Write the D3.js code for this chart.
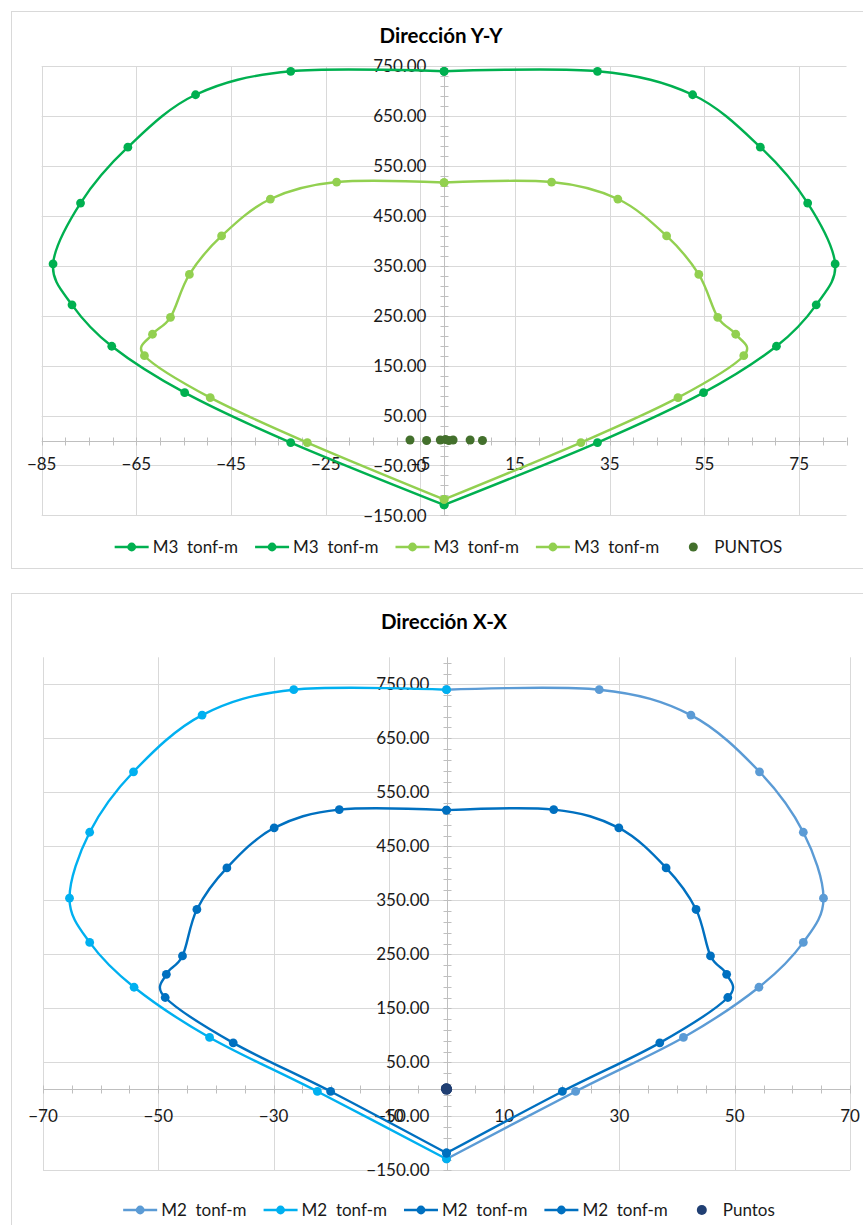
<!DOCTYPE html>
<html><head><meta charset="utf-8">
<script src="https://cdn.jsdelivr.net/npm/d3@7"></script>
<style>
body{margin:0;background:#fff;}
svg{display:block;}
text{font-family:Lato,"Open Sans",sans-serif;}
</style>
</head><body>
<svg id="c" width="863" height="1225"></svg>
<script>
// ---------- DATA ----------
// Axial load P (tonf), shared by both directions
const P_outer = [740, 740, 693, 588, 476, 354, 272, 189, 96, -4, -129];
const P_inner = [517, 518, 484, 410, 333, 247, 213, 170, 86, -4, -118];
// Direction Y-Y : M3 (tonf-m), right half (left half is the mirror)
const M3_outer = [0, 32.4, 52.5, 66.8, 76.8, 82.6, 78.6, 70.2, 54.8, 32.4, 0];
const M3_inner = [0, 22.7, 36.7, 47.0, 53.8, 57.8, 61.6, 63.3, 49.4, 28.9, 0];
// Direction X-X : M2 (tonf-m)
const M2_outer = [0, 26.5, 42.4, 54.3, 61.9, 65.4, 61.9, 54.2, 41.1, 22.4, 0];
const M2_inner = [0, 18.6, 29.9, 38.1, 43.3, 45.8, 48.6, 48.8, 37.0, 20.1, 0];
// Demand points
const PUNTOS_M3 = [-7.2, -3.7, -0.8, 0.3, 1.0, 1.9, 5.5, 8.1];
const PUNTOS_P  = [1, 0, 1, 2, 0, 1, 1, 0];
const Puntos_M2 = [0.0, 0.1, -0.1, 0.0, 0.1, 0.0, -0.1, 0.0];
const Puntos_P  = [1, 0, 1, 2, 0, 1, 1, -1];
// Axis ticks
const xTicksYY = [-85, -65, -45, -25, -5, 15, 35, 55, 75];
const xTicksXX = [-70, -50, -30, -10, 10, 30, 50, 70];
const yTicksYY = [-150, -50, 50, 150, 250, 350, 450, 550, 650, 750];
const yTicksXX = [-150, -50, 50, 150, 250, 350, 450, 550, 650, 750];
const titles = ["Dirección Y-Y", "Dirección X-X"];
const legendYY = ["M3  tonf-m", "M3  tonf-m", "M3  tonf-m", "M3  tonf-m", "PUNTOS"];
const legendXX = ["M2  tonf-m", "M2  tonf-m", "M2  tonf-m", "M2  tonf-m", "Puntos"];

const zip = (a, b) => a.map((v, i) => [v, b[i]]);
const neg = a => a.map(v => -v);

const svg = d3.select("#c");

function drawChart(cfg) {
  const g = svg.append("g");
  // outer border
  g.append("rect").attr("x", cfg.box[0] + 0.5).attr("y", cfg.box[1] + 0.5)
    .attr("width", cfg.box[2]).attr("height", cfg.box[3])
    .attr("fill", "#fff").attr("stroke", "#D9D9D9").attr("stroke-width", 1);

  const xs = d3.scaleLinear().domain(cfg.xDomain).range([cfg.plot[0], cfg.plot[1]]);
  const ys = d3.scaleLinear().domain(cfg.yDomain).range([cfg.plot[3], cfg.plot[2]]);
  const X0 = Math.round(xs(0)) + 0.5, Y0 = Math.round(ys(0)) + 0.5;

  // gridlines
  const grid = g.append("g").attr("stroke", "#D9D9D9").attr("stroke-width", 1);
  cfg.xTicks.forEach(t => {
    const x = Math.round(xs(t)) + 0.5;
    grid.append("line").attr("x1", x).attr("x2", x).attr("y1", cfg.plot[2]).attr("y2", cfg.plot[3]);
  });
  cfg.yTicks.forEach(t => {
    const y = Math.round(ys(t)) + 0.5;
    grid.append("line").attr("x1", cfg.plot[0]).attr("x2", cfg.plot[1]).attr("y1", y).attr("y2", y);
  });

  // axes (crossing at 0) with cross tick marks
  const ax = g.append("g").attr("stroke", "#BFBFBF").attr("stroke-width", 1);
  ax.append("line").attr("x1", cfg.plot[0]).attr("x2", cfg.plot[1]).attr("y1", Y0).attr("y2", Y0);
  ax.append("line").attr("x1", X0).attr("x2", X0).attr("y1", cfg.plot[2]).attr("y2", cfg.plot[3]);
  const xMinor = d3.range(cfg.xDomain[0], cfg.xDomain[1] + 0.001, 5);
  xMinor.forEach(t => {
    const x = Math.round(xs(t)) + 0.5;
    ax.append("line").attr("x1", x).attr("x2", x).attr("y1", Y0 - 4).attr("y2", Y0 + 4);
  });
  const yMinor = d3.range(cfg.yDomain[0], cfg.yDomain[1] + 0.001, 20);
  yMinor.forEach(t => {
    const y = Math.round(ys(t)) + 0.5;
    ax.append("line").attr("x1", X0 - 4).attr("x2", X0 + 4).attr("y1", y).attr("y2", y);
  });

  // tick labels
  const lab = g.append("g").attr("fill", "#1a1a1a").style("font-size", "17px");
  cfg.xTicks.forEach(t => {
    lab.append("text").attr("x", xs(t)).attr("y", Y0 + cfg.xLabOff).attr("dy", "0.36em")
      .attr("text-anchor", "middle").text(d3.format("d")(t));
  });
  cfg.yTicks.forEach(t => {
    lab.append("text").attr("x", X0 - 18).attr("y", ys(t)).attr("dy", "0.36em")
      .attr("text-anchor", "end").text(d3.format(".2f")(t));
  });

  // title
  g.append("text").attr("x", cfg.titleX).attr("y", cfg.titleY).attr("text-anchor", "middle")
    .attr("fill", "#000").style("font-size", "20.5px").style("font-weight", "bold").text(cfg.title);

  // series
  const line = d3.line().x(d => xs(d[0])).y(d => ys(d[1])).curve(d3.curveCatmullRom.alpha(0));
  cfg.series.forEach(s => {
    g.append("path").attr("d", line(s.data)).attr("fill", "none")
      .attr("stroke", s.color).attr("stroke-width", 2.4).attr("stroke-linejoin", "round");
    g.append("g").selectAll("circle").data(s.data).join("circle")
      .attr("cx", d => xs(d[0])).attr("cy", d => ys(d[1])).attr("r", 4.4).attr("fill", s.color);
  });
  const pg = g.append("g");
  pg.selectAll("circle").data(cfg.points.data).join("circle")
    .attr("cx", d => xs(d[0])).attr("cy", d => ys(d[1])).attr("r", cfg.points.r).attr("fill", cfg.points.color);

  // legend
  const items = cfg.series.map((s, i) => ({label: cfg.legend[i], color: s.color, line: true}))
    .concat([{label: cfg.legend[4], color: cfg.points.color, line: false}]);
  const lg = g.append("g");
  const widths = items.map(it => {
    const t = lg.append("text").style("font-size", "17px").style("white-space", "pre").text(it.label);
    const w = t.node().getComputedTextLength(); t.remove(); return w;
  });
  const symW = 34, gapT = 4, gapI = 17;
  const total = d3.sum(widths) + items.length * (symW + gapT) + (items.length - 1) * gapI;
  let cx = cfg.legendCX - total / 2;
  items.forEach((it, i) => {
    const ly = cfg.legendY;
    if (it.line) {
      lg.append("line").attr("x1", cx).attr("x2", cx + symW).attr("y1", ly).attr("y2", ly)
        .attr("stroke", it.color).attr("stroke-width", 2.4);
    }
    lg.append("circle").attr("cx", cx + symW / 2).attr("cy", ly).attr("r", it.line ? 4.4 : cfg.points.r).attr("fill", it.color);
    lg.append("text").attr("x", cx + symW + gapT).attr("y", ly).attr("dy", "0.36em")
      .attr("fill", "#1a1a1a").style("font-size", "17px").style("white-space", "pre").text(it.label);
    cx += symW + gapT + widths[i] + gapI;
  });
}

drawChart({
  box: [11, 11, 900, 557],
  plot: [41.7, 846.5, 66.3, 515.4],
  xDomain: [-85, 85], yDomain: [-150, 750],
  xTicks: xTicksYY, yTicks: yTicksYY,
  xLabOff: 22.5,
  title: titles[0], titleX: 441, titleY: 42.5,
  legend: legendYY, legendY: 547, legendCX: 448.5,
  series: [
    {data: zip(M3_outer, P_outer), color: "#00B050"},
    {data: zip(neg(M3_outer), P_outer), color: "#00B050"},
    {data: zip(M3_inner, P_inner), color: "#92D050"},
    {data: zip(neg(M3_inner), P_inner), color: "#92D050"}
  ],
  points: {data: zip(PUNTOS_M3, PUNTOS_P), color: "#43702C", r: 4.5}
});

drawChart({
  box: [11, 593, 900, 700],
  plot: [43, 850, 657.3, 1170.3],
  xDomain: [-70, 70], yDomain: [-150, 800],
  xTicks: xTicksXX, yTicks: yTicksXX,
  xLabOff: 26,
  title: titles[1], titleX: 444, titleY: 629,
  legend: legendXX, legendY: 1210, legendCX: 449,
  series: [
    {data: zip(M2_outer, P_outer), color: "#5B9BD5"},
    {data: zip(neg(M2_outer), P_outer), color: "#00B0F0"},
    {data: zip(M2_inner, P_inner), color: "#0070C0"},
    {data: zip(neg(M2_inner), P_inner), color: "#0070C0"}
  ],
  points: {data: zip(Puntos_M2, Puntos_P), color: "#203F73", r: 5}
});
</script>
</body></html>
